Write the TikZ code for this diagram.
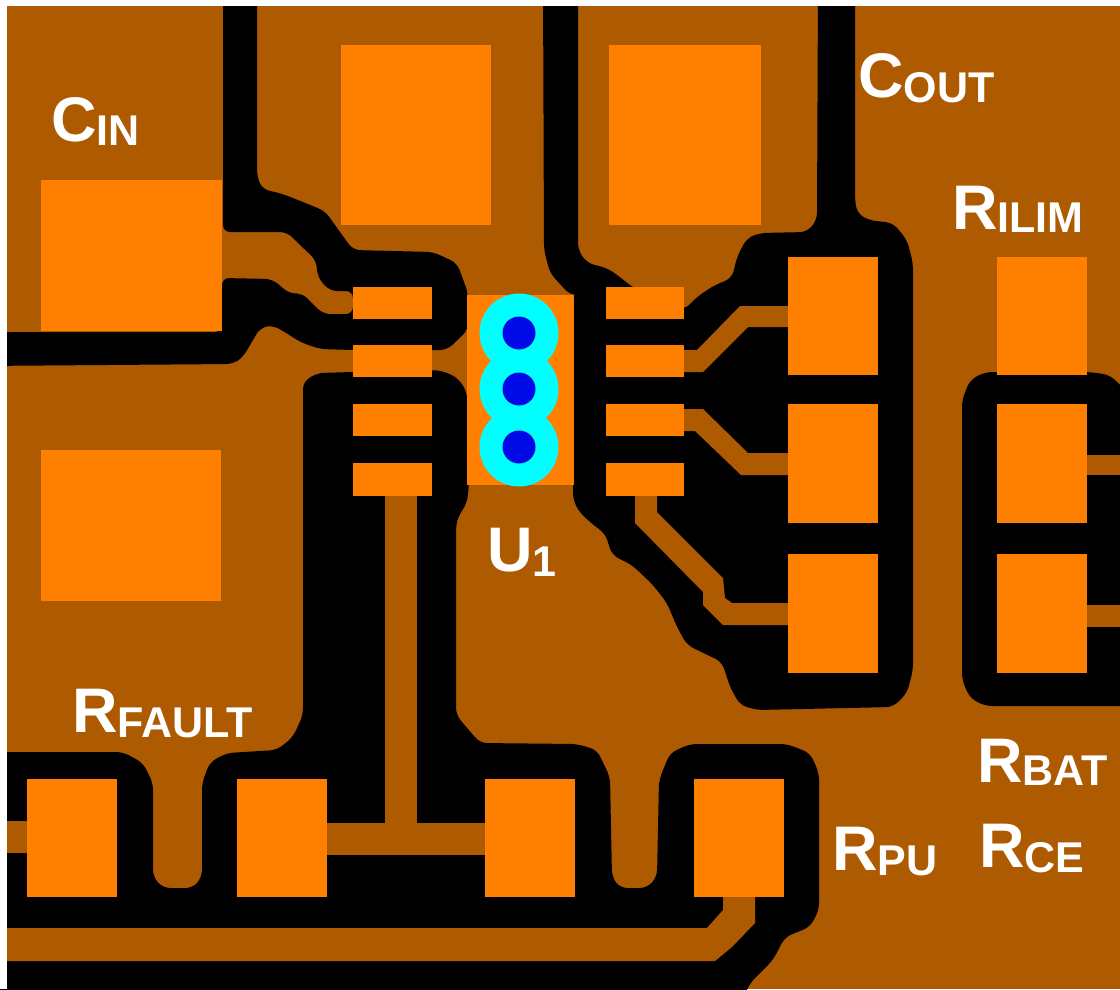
\documentclass[tikz,border=0pt]{standalone}
\usepackage{fontspec}
\setmainfont{Liberation Sans}[BoldFont={Liberation Sans Bold}]
\definecolor{copper}{RGB}{174,90,0}
\definecolor{padorange}{RGB}{255,128,0}
\definecolor{viaring}{RGB}{0,255,255}
\definecolor{viahole}{RGB}{0,10,230}
\newcommand{\pcblabel}[3]{{\fontsize{63}{63}\bfseries\selectfont #1\raisebox{-#3pt}{\fontsize{43}{43}\selectfont #2}}}
\tikzset{
  etch/.style={fill=black,rounded corners=7pt},
  trace/.style={fill=copper},
  padshape/.style={fill=padorange},
  lbl/.style={text=white,inner sep=0pt,anchor=base west},
}
\begin{document}
\begin{tikzpicture}[x=1pt,y=-1pt]
\useasboundingbox (0,0) rectangle (1120,989);
\fill[copper] (0,0) rectangle (1120,989);
% upper-left etch
\path[etch] (223,-20) -- (257,-20) -- (257,176) -- (262,189) -- (283,194) -- (325,211) -- (340,232) -- (353,250) -- (433,252) -- (457,263) -- (468,293) -- (468,330) -- (447,350) -- (353,350) -- (320,349) -- (300,342) -- (285,332) -- (272,325) -- (260,328) -- (253,340) -- (243,357) -- (233,364) -- (-20,366) -- (-20,332) -- (222,332) -- (222,278) -- (272,279) -- (290,294) -- (302,293) -- (323,314) -- (353,314) -- (353,291) -- (330,291) -- (318,278) -- (316,260) -- (300,245) -- (287,232) -- (223,232) -- cycle;
% top centre and right etch
\path[etch] (543,-20) -- (578,-20) -- (578,250) -- (587,263) -- (607,268) -- (620,277) -- (632,287) -- (684,310) -- (697,297) -- (713,286) -- (732,278) -- (737,257) -- (747,238) -- (760,233) -- (807,232) -- (817,220) -- (818,-20) -- (855,-20) -- (855,200) -- (857,213) -- (868,220) -- (893,223) -- (907,240) -- (913,263) -- (913,670) -- (907,693) -- (893,707) -- (757,710) -- (740,705) -- (730,687) -- (722,662) -- (687,645) -- (677,627) -- (667,603) -- (653,585) -- (632,565) -- (612,555) -- (605,533) -- (597,528) -- (580,513) -- (573,500) -- (573,295) -- (570,295) -- (550,273) -- (544,250) -- cycle;
% lower etch
\path[etch] (-20,752) -- (123,752) -- (143,763) -- (153,783) -- (153,877) -- (163,888) -- (193,888) -- (202,877) -- (202,783) -- (210,762) -- (227,753) -- (277,750) -- (293,737) -- (303,715) -- (303,382) -- (317,373) -- (353,372) -- (432,370) -- (443,371) -- (458,378) -- (467,392) -- (469,485) -- (467,503) -- (458,517) -- (456,525) -- (456,715) -- (480,743) -- (577,744) -- (597,750) -- (610,777) -- (612,877) -- (620,888) -- (647,888) -- (657,877) -- (659,780) -- (670,753) -- (690,744) -- (787,744) -- (810,753) -- (819,773) -- (819,910) -- (810,927) -- (785,937) -- (773,960) -- (750,983) -- (738,1010) -- (-20,1010) -- cycle;
% right etch
\path[etch] (1135,400) -- (1110,375) -- (1090,372) -- (985,372) -- (970,380) -- (962,400) -- (962,680) -- (970,698) -- (985,706) -- (1140,706) -- cycle;
% traces
\fill[trace] (385,490) rectangle (417,830);
\fill[trace] (320,823) rectangle (490,855);
\fill[trace] (0,821) rectangle (30,853);
\fill[trace] (0,928) -- (707,928) -- (723,910) -- (723,890) -- (755,890) -- (755,923) -- (732,947) -- (715,961) -- (0,961) -- cycle;
\fill[trace] (680,350) -- (697,350) -- (740,306) -- (792,306) -- (792,327) -- (748,327) -- (703,372) -- (680,372) -- cycle;
\fill[trace] (680,409) -- (703,409) -- (748,453) -- (792,453) -- (792,475) -- (741,475) -- (695,431) -- (680,431) -- cycle;
\fill[trace] (635,490) -- (657,490) -- (657,512) -- (723,578) -- (725,598) -- (732,603) -- (792,603) -- (792,625) -- (723,625) -- (703,605) -- (703,592) -- (635,523) -- cycle;
\fill[trace] (1083,455) rectangle (1120,475);
\fill[trace] (1083,605) rectangle (1120,627);
% white margin
\fill[white] (0,0) rectangle (1120,6);
\fill[white] (0,0) rectangle (7,989);
% capacitor pads
\fill[padshape] (41,180) rectangle (222,331);
\fill[padshape] (41,450) rectangle (221,601);
\fill[padshape] (341,45) rectangle (491,225);
\fill[padshape] (609,45) rectangle (761,225);
% IC pads
\foreach \yt/\yb in {287/319,345/377,404/436,463/496}{
  \fill[padshape] (353,\yt) rectangle (432,\yb);
  \fill[padshape] (606,\yt) rectangle (684,\yb);
}
\fill[padshape] (467,295) rectangle (574,485);
% resistor pads
\foreach \yt/\yb in {257/375,404/523,554/673}{
  \fill[padshape] (788,\yt) rectangle (878,\yb);
  \fill[padshape] (997,\yt) rectangle (1087,\yb);
}
\foreach \xl/\xr in {27/117,237/327,485/575,694/784}{
  \fill[padshape] (\xl,779) rectangle (\xr,897);
}
% vias
\foreach \vy in {333,389,447}{
  \fill[viaring] (519,\vy) circle[radius=39.5];
}
\foreach \vy in {333,389,447}{
  \fill[viahole] (519,\vy) circle[radius=16.5];
}
% labels
\node[lbl] (cin) at (51,141.5) {\pcblabel{C}{IN}{4}};
\node[lbl] (cout) at (858,97) {\pcblabel{C}{OUT}{5}};
\node[lbl] (rilim) at (952,229) {\pcblabel{R}{ILIM}{3}};
\node[lbl] (rbat) at (977,782) {\pcblabel{R}{BAT}{3}};
\node[lbl] (rce) at (979,867) {\pcblabel{R}{CE}{5}};
\node[lbl] (rpu) at (832,870) {\pcblabel{R}{PU}{5}};
\node[lbl] (rfault) at (72,732) {\pcblabel{R}{FAULT}{5}};
\node[lbl] (uone) at (487,571) {\pcblabel{U}{1}{5}};
\end{tikzpicture}
\end{document}
